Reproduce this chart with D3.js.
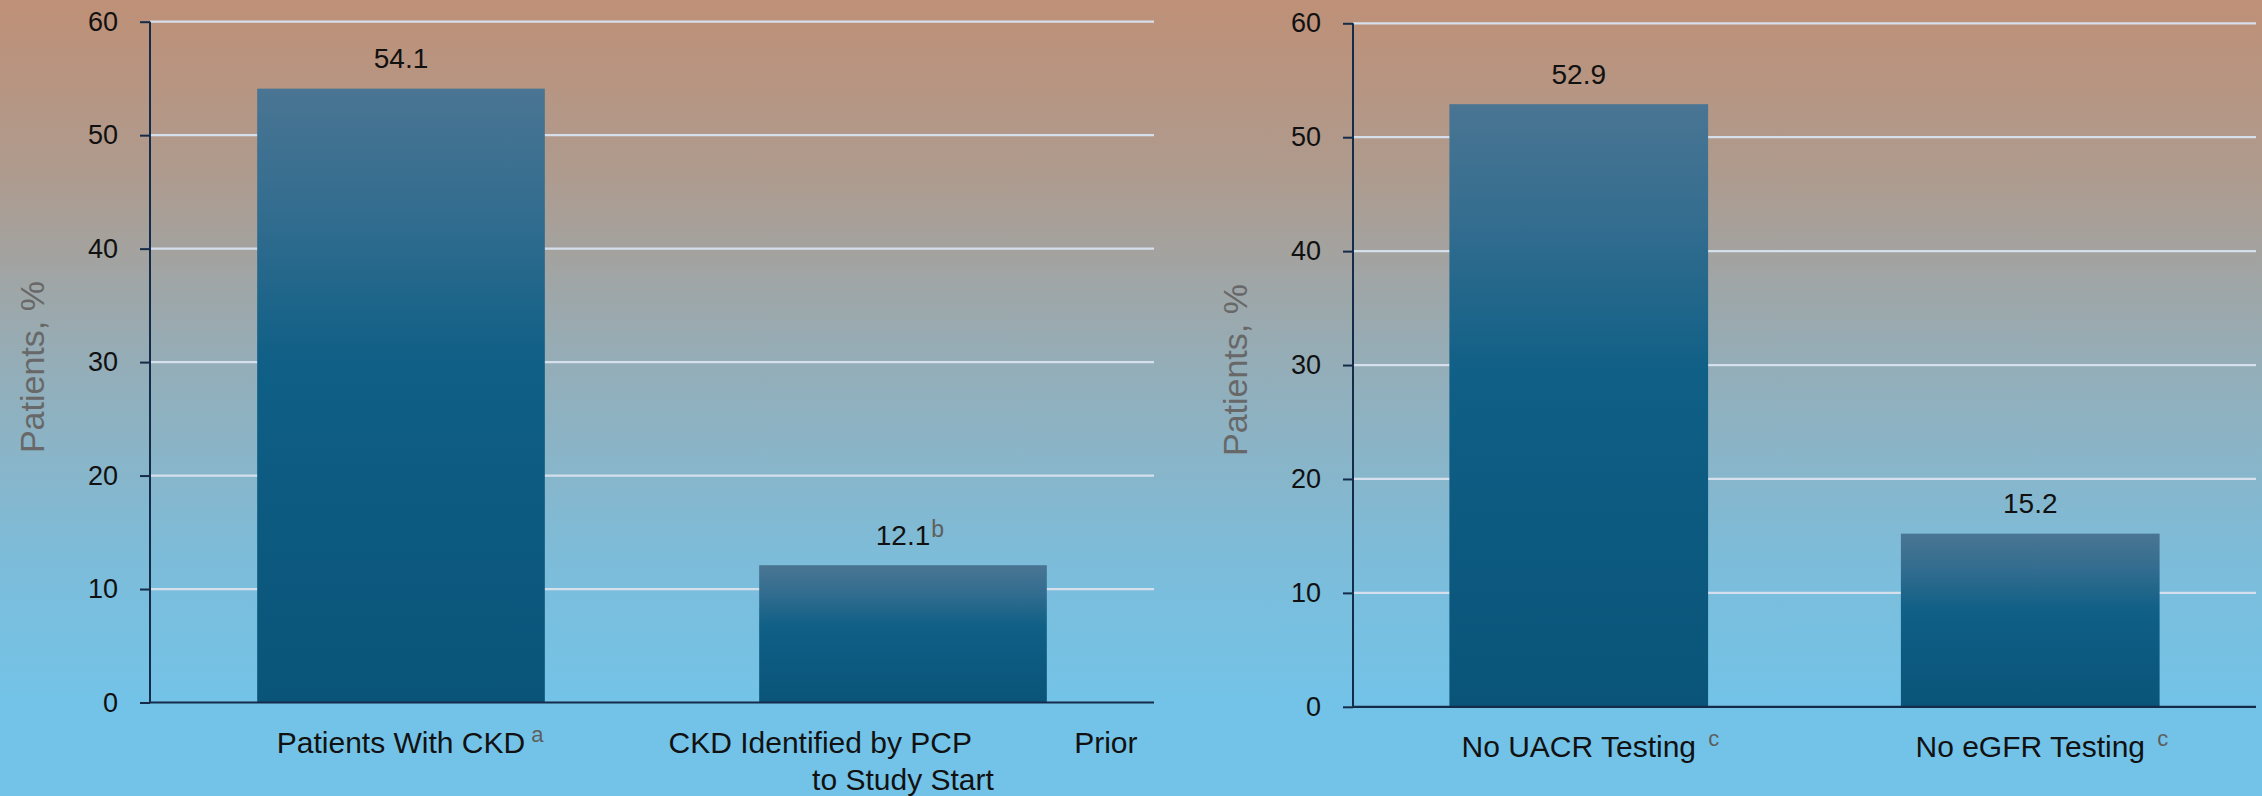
<!DOCTYPE html>
<html>
<head>
<meta charset="utf-8">
<script src="https://cdn.jsdelivr.net/npm/d3@7"></script>
<style>
  html, body { margin: 0; padding: 0; overflow: hidden; }
  svg { display: block; }
  text { font-family: "Liberation Sans", Arial, sans-serif; }
</style>
</head>
<body>
<script>
// ---- Data ----
const yTicks = [0, 10, 20, 30, 40, 50, 60];

// Left panel: CKD prevalence and PCP identification
const leftCategories = ["Patients With CKD", "CKD Identified by PCP Prior to Study Start"];
const leftLabelLines = [
  [["Patients With CKD"]],
  [["CKD Identified by PCP", "Prior"], ["to Study Start"]]
];
const leftLabelNotes = [" a", ""];
const leftValues = [54.1, 12.1];
const leftValueNotes = ["", "b"];

// Right panel: missing kidney function testing
const rightCategories = ["No UACR Testing", "No eGFR Testing"];
const rightLabelLines = [
  [["No UACR Testing"]],
  [["No eGFR Testing"]]
];
const rightLabelNotes = ["  c", "  c"];
const rightValues = [52.9, 15.2];
const rightValueNotes = ["", ""];

const yTitle = "Patients, %";

// ---- Canvas ----
const W = 2262, H = 796;
const svg = d3.select("body").append("svg").attr("width", W).attr("height", H);
const defs = svg.append("defs");

const bg = defs.append("linearGradient").attr("id", "bg")
  .attr("x1", 0).attr("y1", 0).attr("x2", 0).attr("y2", 1);
[[0, "#bf9077"], [0.22, "#ae9b8e"], [0.45, "#95adb7"], [0.7, "#7dbcd9"], [0.88, "#73c3e8"], [1, "#73c3e9"]]
  .forEach(([o, c]) => bg.append("stop").attr("offset", o).attr("stop-color", c));

const barGrad = defs.append("linearGradient").attr("id", "barGrad")
  .attr("x1", 0).attr("y1", 0).attr("x2", 0).attr("y2", 1);
[[0, "#4a7593"], [0.2, "#336d8f"], [0.45, "#0f5f86"], [1, "#0a5479"]]
  .forEach(([o, c]) => barGrad.append("stop").attr("offset", o).attr("stop-color", c));

svg.append("rect").attr("width", W).attr("height", H).attr("fill", "url(#bg)");

function drawPanel(p) {
  const g = svg.append("g");
  const x = d3.scaleBand().domain(p.categories).range([p.x0, p.x1])
    .paddingInner(0.427).paddingOuter(0.2135);
  const y = d3.scaleLinear().domain([0, 60]).range([p.yBottom, p.yTop]);

  // gridlines
  g.append("g").selectAll("line").data(yTicks.filter(t => t > 0)).join("line")
    .attr("x1", p.x0).attr("x2", p.x1)
    .attr("y1", d => y(d)).attr("y2", d => y(d))
    .attr("stroke", "#d6e0ec").attr("stroke-width", 2.2);

  // bars
  g.append("g").selectAll("rect").data(p.values).join("rect")
    .attr("x", (d, i) => x(p.categories[i]))
    .attr("width", x.bandwidth())
    .attr("y", d => y(d))
    .attr("height", d => y(0) - y(d))
    .attr("fill", "url(#barGrad)");

  // y axis
  const ya = g.append("g").attr("transform", `translate(${p.x0},0)`)
    .call(d3.axisLeft(y).tickValues(yTicks).tickSize(10).tickPadding(22));
  ya.select(".domain").attr("stroke", "#152b4a").attr("stroke-width", 2)
    .attr("d", `M0,${y(60)}V${y(0)}`);
  ya.selectAll(".tick line").attr("stroke", "#152b4a").attr("stroke-width", 2);
  ya.selectAll(".tick text").attr("fill", "#111").style("font-size", "27px")
    .style("font-family", "'Liberation Sans', Arial, sans-serif");

  // x axis baseline
  const xa = g.append("g").attr("transform", `translate(0,${y(0)})`)
    .call(d3.axisBottom(x).tickSize(0).tickFormat(""));
  xa.select(".domain").attr("stroke", "#152b4a").attr("stroke-width", 2.2)
    .attr("d", `M${p.x0},0H${p.x1}`);

  // value labels
  p.values.forEach((v, i) => {
    const cx = x(p.categories[i]) + x.bandwidth() / 2;
    const by = y(v) - 20.3;
    const t = g.append("text").attr("x", cx).attr("y", by)
      .attr("text-anchor", "middle").attr("fill", "#111")
      .style("font-size", "28px").text(v.toFixed(1));
    if (p.valueNotes[i]) {
      const len = t.node().getComputedTextLength();
      g.append("text").attr("x", cx + len / 2 + 1).attr("y", by - 8)
        .attr("fill", "#5e5e5e").style("font-size", "23px")
        .style("white-space", "pre").text(p.valueNotes[i]);
    }
  });

  // category labels
  p.labelLines.forEach((lines, i) => {
    const cx = x(p.categories[i]) + x.bandwidth() / 2;
    lines.forEach((pieces, li) => {
      const by = y(0) + 50.5 + li * 36.7;
      if (pieces.length === 2) {
        const half = 234.5;
        g.append("text").attr("x", cx - half).attr("y", by).attr("text-anchor", "start")
          .attr("fill", "#111").style("font-size", "30px").text(pieces[0]);
        g.append("text").attr("x", cx + half).attr("y", by).attr("text-anchor", "end")
          .attr("fill", "#111").style("font-size", "30px").text(pieces[1]);
      } else {
        const t = g.append("text").attr("x", cx).attr("y", by).attr("text-anchor", "middle")
          .attr("fill", "#111").style("font-size", "30px").text(pieces[0]);
        if (li === 0 && p.labelNotes[i]) {
          const len = t.node().getComputedTextLength();
          g.append("text").attr("x", cx + len / 2).attr("y", by - 11.5)
            .attr("fill", "#5e5e5e").style("font-size", "22px")
            .style("white-space", "pre").text(p.labelNotes[i]);
        }
      }
    });
  });

  // y axis title
  const ty = (y(0) + y(60)) / 2 + 5;
  g.append("text")
    .attr("transform", `translate(${p.x0 - 106.5},${ty}) rotate(-90)`)
    .attr("text-anchor", "middle").attr("fill", "#686868")
    .style("font-size", "34px").text(yTitle);
}

drawPanel({
  categories: leftCategories, labelLines: leftLabelLines, labelNotes: leftLabelNotes,
  values: leftValues, valueNotes: leftValueNotes,
  x0: 150, x1: 1154, yTop: 21.7, yBottom: 702.5
});

drawPanel({
  categories: rightCategories, labelLines: rightLabelLines, labelNotes: rightLabelNotes,
  values: rightValues, valueNotes: rightValueNotes,
  x0: 1353, x1: 2256, yTop: 23.3, yBottom: 706.8
});
</script>
</body>
</html>
